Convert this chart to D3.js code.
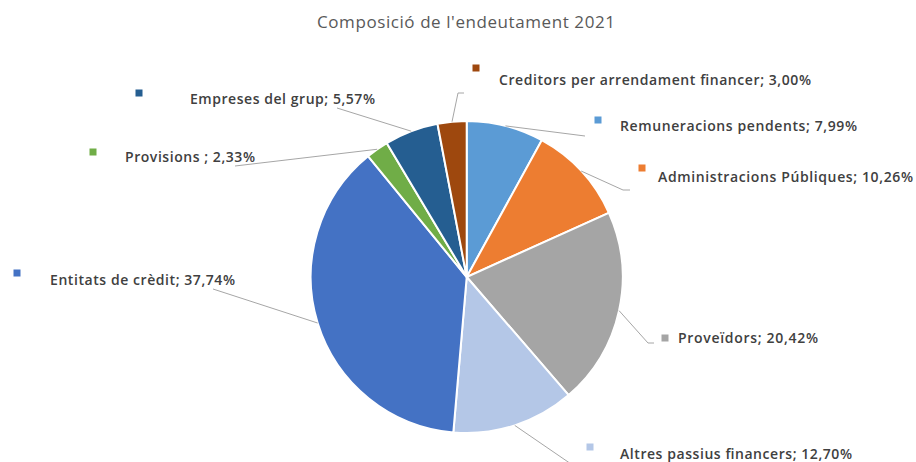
<!DOCTYPE html>
<html>
<head>
<meta charset="utf-8">
<script src="https://cdn.jsdelivr.net/npm/d3@7"></script>
<style>
body { margin: 0; background: #fff; }
text { font-family: "Open Sans", sans-serif; }
</style>
</head>
<body>
<script>
var width = 916, height = 462;

// data
var categories = ["Remuneracions pendents", "Administracions Públiques", "Proveïdors",
  "Altres passius financers", "Entitats de crèdit", "Provisions ", "Empreses del grup",
  "Creditors per arrendament financer"];
var values = [7.99, 10.26, 20.42, 12.70, 37.74, 2.33, 5.57, 3.00];
var colors = ["#5B9BD5", "#ED7D31", "#A5A5A5", "#B4C7E7", "#4472C4", "#70AD47", "#255E91", "#9E480E"];

// label layout: marker pos, text start, text width, leader end points
var labelPos = [
  {mx: 598, my: 120, tx: 620, ty: 126, tw: 237, line: [[585, 136]]},
  {mx: 642, my: 168, tx: 658, ty: 177, tw: 255, line: [[623, 190], [630, 190]]},
  {mx: 665, my: 338, tx: 678, ty: 338, tw: 140, line: [[648, 343], [654, 343]]},
  {mx: 590, my: 447, tx: 620, ty: 454, tw: 232, line: [[574, 466]]},
  {mx: 17, my: 273, tx: 50, ty: 280, tw: 185, line: [[213, 289]]},
  {mx: 93, my: 152, tx: 125, ty: 157, tw: 130, line: [[235, 166]]},
  {mx: 139, my: 93, tx: 190, ty: 99, tw: 185, line: [[337, 108]]},
  {mx: 476, my: 68, tx: 499, ty: 80, tw: 312, line: [[458, 93], [464, 93]]}
];

var cx = 466.7, cy = 277, radius = 156;

var svg = d3.select('body').append('svg').attr('width', width).attr('height', height);

svg.append('text')
  .attr('x', 317).attr('y', 22)
  .attr('dy', '0.35em')
  .attr('font-size', 17)
  .attr('textLength', 298)
  .attr('lengthAdjust', 'spacing')
  .attr('fill', '#595959')
  .text("Composició de l'endeutament 2021");

var fmt = function(v) { return v.toFixed(2).replace('.', ',') + '%'; };

var data = categories.map(function(c, i) { return {name: c, value: values[i], color: colors[i], pos: labelPos[i]}; });

var pie = d3.pie().sort(null).value(function(d) { return d.value; });
var arc = d3.arc().innerRadius(0).outerRadius(radius);
var arcs = pie(data);

var g = svg.append('g').attr('transform', 'translate(' + cx + ',' + cy + ')');

g.selectAll('path.slice')
  .data(arcs)
  .join('path')
  .attr('class', 'slice')
  .attr('d', arc)
  .attr('fill', function(d) { return d.data.color; })
  .attr('stroke', '#fff')
  .attr('stroke-width', 2);

// leader lines
svg.selectAll('polyline.leader')
  .data(arcs)
  .join('polyline')
  .attr('class', 'leader')
  .attr('fill', 'none')
  .attr('stroke', '#A6A6A6')
  .attr('stroke-width', 1)
  .attr('points', function(d) {
    var a = (d.startAngle + d.endAngle) / 2;
    var start = [cx + radius * Math.sin(a), cy - radius * Math.cos(a)];
    return [start].concat(d.data.pos.line).map(function(p) { return p.join(','); }).join(' ');
  });

// markers
svg.selectAll('rect.marker')
  .data(data)
  .join('rect')
  .attr('class', 'marker')
  .attr('x', function(d) { return d.pos.mx - 3.5; })
  .attr('y', function(d) { return d.pos.my - 3.5; })
  .attr('width', 7).attr('height', 7)
  .attr('fill', function(d) { return d.color; });

// label text
svg.selectAll('text.lbl')
  .data(data)
  .join('text')
  .attr('class', 'lbl')
  .attr('x', function(d) { return d.pos.tx; })
  .attr('y', function(d) { return d.pos.ty; })
  .attr('dy', '0.35em')
  .attr('font-size', 14)
  .attr('font-weight', 600)
  .attr('textLength', function(d) { return d.pos.tw; })
  .attr('lengthAdjust', 'spacing')
  .attr('fill', '#404040')
  .text(function(d) { return d.name + '; ' + fmt(d.value); });
</script>
</body>
</html>
